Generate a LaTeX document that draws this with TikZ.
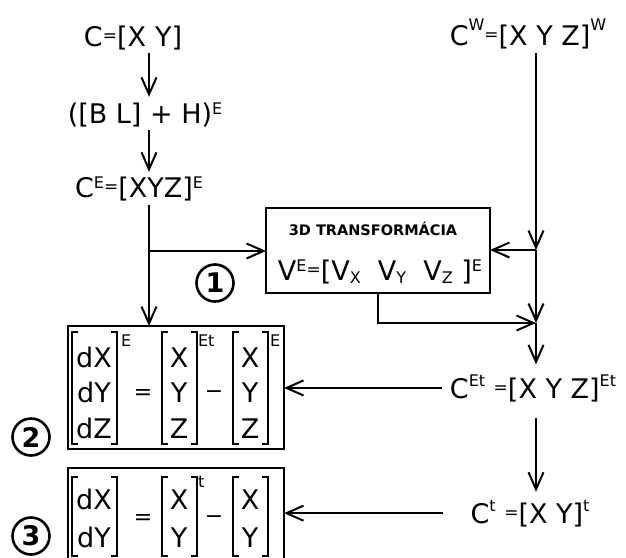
\documentclass[tikz,border=0pt]{standalone}
\usepackage{fontspec}
\setmainfont{DejaVu Sans}
\usetikzlibrary{arrows.meta,calc}
\newcommand\spx[2][10pt]{\raisebox{#1}{\fontsize{16}{16}\selectfont #2}}
\newcommand\sbx[1]{\raisebox{-3pt}{\fontsize{16}{16}\selectfont #1}}
\newcommand\eqx{\raisebox{4.5pt}{\fontsize{17}{17}\selectfont =}}
\newcommand\beqx{\raisebox{3pt}{\fontsize{22}{22}\selectfont =}}
\newcommand\mnx{\raisebox{0pt}{\char"2212}}
\newcommand\brk[4]{%
  \draw (#1+6,#3) -- (#1,#3) -- (#1,#4) -- (#1+6,#4);
  \draw (#2-6,#3) -- (#2,#3) -- (#2,#4) -- (#2-6,#4);}
\begin{document}
\begin{tikzpicture}[x=1pt,y=-1pt,line width=2pt,
  conn/.style={-{Straight Barb[length=17pt,width=15pt]}},
  txt/.style={inner sep=0pt,outer sep=0pt,anchor=base,font=\fontsize{27}{27}\selectfont},
  small/.style={inner sep=0pt,outer sep=0pt,anchor=base,font=\fontsize{16}{16}\selectfont},
  frame/.style={draw,rectangle,inner sep=0pt,outer sep=0pt},
  num/.style={draw,circle,line width=2.6pt,minimum size=37pt,inner sep=0pt,font=\fontsize{27}{27}\selectfont\bfseries}]
\useasboundingbox (0,0) rectangle (626,557);
\clip (0,0) rectangle (626,557);
\fill[white] (0,0) rectangle (626,557);

% texts
\node[txt] (t1) at (133,46) {C\eqx[X\,\,Y]};
\node[txt] (t2) at (145,123) {([B L] + H)\spx[9pt]{E}};
\node[txt] (t3) at (139,197) {C\spx[9pt]{E}\eqx[XYZ]\spx[9pt]{E}};
\node[txt] (t4) at (528,45) {C\spx[15pt]{W}\eqx[X Y Z]\spx[15pt]{W}};
\node[txt] (t7) at (533,398) {C\spx[12pt]{Et} \eqx[X Y Z]\spx[12pt]{Et}};
\node[txt] (t8) at (530,523) {C\spx[12pt]{t} \eqx[X Y]\spx[12pt]{t}};

% 3D box
\node[frame,minimum width=224pt,minimum height=85pt] (tb) at (378,250.5) {};
\node[txt,font=\fontsize{14.5}{14.5}\selectfont\bfseries] (t5) at (373,235) {3D TRANSFORMÁCIA};
\node[txt] (t6) at (380,280) {V\spx[9pt]{E}\eqx[V\sbx{X}\ \ V\sbx{Y}\ \ V\sbx{Z} ]\spx[9pt]{E}};

% equation boxes
\node[frame,minimum width=216pt,minimum height=123pt] (b2) at (176,387.5) {};
\node[frame,minimum width=216pt,minimum height=98pt] (b3) at (176,517) {};

% box 2 contents
\brk{72}{117}{332}{444}
\brk{162}{197}{332}{444}
\brk{233}{268}{332}{444}
\node[txt] (e11) at (94,367) {dX};
\node[txt] (e12) at (94,402) {dY};
\node[txt] (e13) at (94,438) {dZ};
\node[txt] (e21) at (179,367) {X};
\node[txt] (e22) at (179,402) {Y};
\node[txt] (e23) at (179,438) {Z};
\node[txt] (e31) at (250,367) {X};
\node[txt] (e32) at (250,402) {Y};
\node[txt] (e33) at (250,438) {Z};
\node[txt] (eq2) at (143,402) {\beqx};
\node[txt,font=\fontsize{22}{22}\selectfont] (mi2) at (214,398) {\mnx};
\node[small,anchor=base west] (s21) at (121,346) {E};
\node[small,anchor=base west] (s22) at (198,346) {Et};
\node[small,anchor=base west] (s23) at (270,346) {E};

% box 3 contents
\brk{72}{117}{477}{556}
\brk{162}{197}{477}{556}
\brk{233}{268}{477}{556}
\node[txt] (f11) at (94,509) {dX};
\node[txt] (f12) at (94,547) {dY};
\node[txt] (f21) at (179,509) {X};
\node[txt] (f22) at (179,547) {Y};
\node[txt] (f31) at (250,509) {X};
\node[txt] (f32) at (250,547) {Y};
\node[txt] (eq3) at (143,527) {\beqx};
\node[txt,font=\fontsize{22}{22}\selectfont] (mi3) at (214,523) {\mnx};
\node[small,anchor=base west] (s31) at (198,487) {t};

% circled numbers
\node[num] (n1) at (215,283) {1};
\node[num] (n2) at (31,437) {2};
\node[num] (n3) at (31,536) {3};

% connectors
\coordinate (ax) at (149,0);
\coordinate (rx) at (536,0);
\coordinate (bx) at (378,0);
\coordinate (j0) at (149,251);
\coordinate (j1) at (536,250);
\coordinate (j2) at (536,323);

\draw[conn] ($(t1.south -| ax)+(0,3)$) -- ($(t2.north -| ax)+(0,-5.5)$);
\draw[conn] ($(t2.south -| ax)+(0,3.5)$) -- ($(t3.north -| ax)+(0,-4.5)$);
\draw ($(t3.south -| ax)+(0,4.5)$) -- (j0);
\draw[conn] (j0) -- (ax |- b2.north);
\draw[conn] (j0) -- (tb.west |- j0);

\draw[conn] ($(t4.south -| rx)+(0,4.5)$) -- (j1);
\draw[conn] (j1) -- (tb.east |- j1);
\draw[conn] (j1) -- (j2);
\draw[conn] (tb.south -| bx) |- (j2);
\draw[conn] (j2) -- ($(t7.north -| rx)+(0,-10)$);
\draw[conn] ($(t7.south -| rx)+(0,16)$) -- ($(t8.north -| rx)+(0,-8)$);
\draw[conn] ($(t7.west)+(-8,0)$) -- (b2.east |- t7.west);
\draw[conn] ($(t8.west)+(-28,0)$) -- (b3.east |- t8.west);
\end{tikzpicture}
\end{document}
